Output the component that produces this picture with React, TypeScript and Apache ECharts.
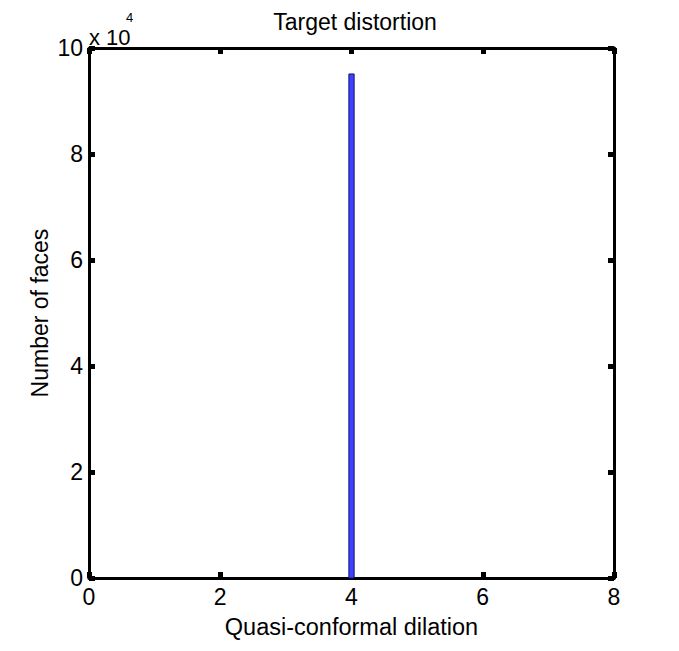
import React, { useEffect, useRef } from "react";
import * as echarts from "echarts";

const binStarts = [3.96];
const binEnds = [4.04];
const counts = [95100];
const xTicks = [0, 2, 4, 6, 8];
const yTickLabels = ["0", "2", "4", "6", "8", "10"];

const FONT = "'Liberation Sans', Arial, sans-serif";
const FS = 23;

export default function App() {
  const ref = useRef<HTMLDivElement>(null);
  useEffect(() => {
    document.body.style.margin = "0";
    const chart = echarts.init(ref.current!, null, { renderer: "svg" });
    const data = counts.map((c, i) => [binStarts[i], binEnds[i], c]);
    const axisCommon = {
      axisLine: { show: true, onZero: false, lineStyle: { color: "#000", width: 3 } },
      axisTick: { show: true, inside: true, length: 6, lineStyle: { color: "#000", width: 5 } },
      splitLine: { show: false },
    };
    chart.setOption({
      animation: false,
      backgroundColor: "#fff",
      title: {
        text: "Target distortion",
        left: 350,
        top: 5,
        textAlign: "center",
        textStyle: { fontFamily: FONT, fontSize: FS, fontWeight: "normal", color: "#000" },
      },
      grid: { left: 89, top: 48, width: 525, height: 530, outerBoundsMode: "none", containLabel: false },
      xAxis: [
        {
          type: "value",
          min: 0,
          max: 8,
          interval: 2,
          position: "bottom",
          ...axisCommon,
          axisLabel: {
            fontFamily: FONT,
            fontSize: FS,
            color: "#000",
            margin: 7,
            formatter: (v: number) => (xTicks.includes(v) ? String(v) : ""),
          },
          name: "Quasi-conformal dilation",
          nameLocation: "middle",
          nameMoveOverlap: false,
          nameGap: 37,
          nameTextStyle: { fontFamily: FONT, fontSize: 23.5, color: "#000" },
        },
        {
          type: "value",
          min: 0,
          max: 8,
          interval: 2,
          position: "top",
          ...axisCommon,
          axisLabel: { show: false },
        },
      ],
      yAxis: [
        {
          type: "value",
          min: 0,
          max: 100000,
          interval: 20000,
          position: "left",
          ...axisCommon,
          axisLabel: {
            fontFamily: FONT,
            fontSize: FS,
            color: "#000",
            margin: 6,
            formatter: (v: number) => yTickLabels[Math.round(v / 20000)] ?? "",
          },
          name: "Number of faces",
          nameLocation: "middle",
          nameMoveOverlap: false,
          nameGap: 38,
          nameRotate: 90,
          nameTextStyle: { fontFamily: FONT, fontSize: FS, color: "#000" },
        },
        {
          type: "value",
          min: 0,
          max: 100000,
          interval: 20000,
          position: "right",
          ...axisCommon,
          axisLabel: { show: false },
        },
      ],
      graphic: [
        {
          type: "text",
          left: 89,
          top: 26,
          style: {
            text: "x 10",
            font: `22px ${FONT}`,
            fill: "#000",
          },
        },
        {
          type: "text",
          left: 126,
          top: 11,
          style: {
            text: "4",
            font: `13px ${FONT}`,
            fill: "#000",
          },
        },
      ],
      series: [
        {
          type: "custom",
          xAxisIndex: 0,
          yAxisIndex: 0,
          data,
          encode: { x: [0, 1], y: 2 },
          renderItem: (params: any, api: any) => {
            const p0 = api.coord([api.value(0), api.value(2)]);
            const p1 = api.coord([api.value(1), 0]);
            return {
              type: "rect",
              shape: { x: p0[0], y: p0[1], width: p1[0] - p0[0], height: p1[1] - p0[1] },
              style: { fill: "#4040ff", stroke: "#10107a", lineWidth: 1 },
            };
          },
        },
      ],
    });
    return () => chart.dispose();
  }, []);
  return <div ref={ref} style={{ width: 679, height: 651 }} />;
}
